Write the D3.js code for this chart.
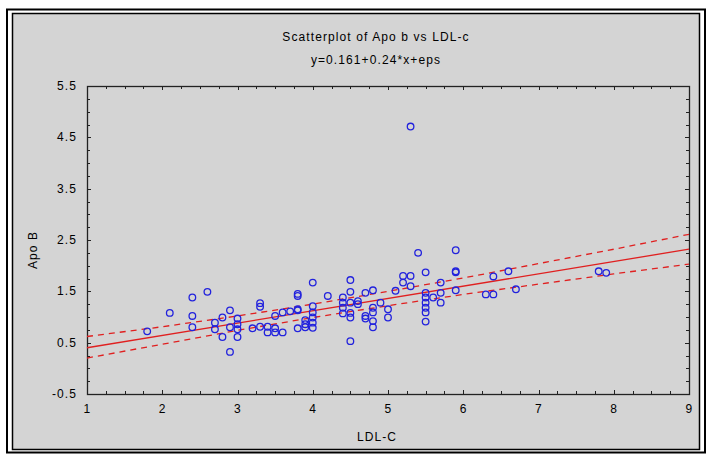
<!DOCTYPE html>
<head>
 <script src="https://cdnjs.cloudflare.com/ajax/libs/d3/7.8.5/d3.min.js"></script>
 <style>
   body { margin: 0; background: #ffffff; }
   text { font-family: "Liberation Sans", Arial, sans-serif; font-size: 12px; letter-spacing: 1.1px; fill: #000; }
 </style>
</head>

<body>
 <div id="chart"></div>
</body>
<script type="text/javascript">
 // LDL-C vs Apo B
 var ldl = [1.8, 2.1, 2.4, 2.4, 2.4, 2.6, 2.7, 2.7, 2.8, 2.8, 2.9, 2.9, 2.9,
            3.0, 3.0, 3.0, 3.0, 3.2, 3.3, 3.3, 3.3, 3.4, 3.4, 3.5, 3.5, 3.5,
            3.6, 3.6, 3.7, 3.8, 3.8, 3.8, 3.8, 3.8, 3.9, 3.9, 3.9,
            4.0, 4.0, 4.0, 4.0, 4.0, 4.0, 4.2, 4.4, 4.4, 4.4, 4.4,
            4.5, 4.5, 4.5, 4.5, 4.5, 4.5, 4.6, 4.6, 4.7, 4.7, 4.7,
            4.8, 4.8, 4.8, 4.8, 4.8, 4.9, 5.0, 5.0, 5.1, 5.2, 5.2, 5.3, 5.3, 5.3, 5.4,
            5.5, 5.5, 5.5, 5.5, 5.5, 5.5, 5.5, 5.6, 5.7, 5.7, 5.7,
            5.9, 5.9, 5.9, 5.9, 6.3, 6.4, 6.4, 6.6, 6.7, 7.8, 7.9];
 var apob = [0.72, 1.08, 1.38, 1.02, 0.80, 1.49, 0.89, 0.76, 0.99, 0.61, 1.13, 0.80, 0.32,
             0.97, 0.86, 0.76, 0.61, 0.78, 1.27, 1.20, 0.81, 0.81, 0.70, 1.02, 0.78, 0.70,
             1.09, 0.70, 1.11, 1.45, 1.41, 1.13, 1.15, 0.78, 0.94, 0.86, 0.80,
             1.67, 1.21, 1.09, 0.99, 0.89, 0.79, 1.41, 1.38, 1.28, 1.18, 1.07,
             1.72, 1.49, 1.28, 1.08, 0.99, 0.53, 1.31, 1.25, 1.47, 1.02, 0.97,
             1.52, 1.18, 1.09, 0.92, 0.80, 1.28, 1.15, 0.99, 1.51, 1.80, 1.67, 1.80, 1.60, 4.71, 2.25,
             1.87, 1.47, 1.38, 1.28, 1.18, 1.09, 0.91, 1.38, 1.67, 1.47, 1.28,
             2.30, 1.89, 1.87, 1.52, 1.44, 1.44, 1.79, 1.89, 1.54, 1.89, 1.86];

 // fit y=0.161+0.24*x and its confidence band (band read at x = 1..9)
 var intercept = 0.161;
 var slope = 0.24;
 var bandX = [1, 2, 3, 4, 5, 6, 7, 8, 9];
 var bandUpper = [0.62, 0.81, 1.02, 1.25, 1.50, 1.76, 2.04, 2.32, 2.61];
 var bandLower = [0.20, 0.47, 0.74, 0.99, 1.22, 1.44, 1.64, 1.84, 2.03];

 var xTicks = [1, 2, 3, 4, 5, 6, 7, 8, 9];
 var yTicks = [-0.5, 0.5, 1.5, 2.5, 3.5, 4.5, 5.5];

 var props = {
   width: 707,
   height: 455,
   plotLeft: 87,
   plotRight: 689,
   plotTop: 86,
   plotBottom: 394
 }

 var svg = d3.select("#chart").append("svg").attr("width", props.width).attr("height", props.height);

 // window frame
 svg.append("rect").attr("x", 7).attr("y", 9.5).attr("width", 698).attr("height", 443)
   .style("fill", "#ffffff").style("stroke", "#000").style("stroke-width", 2);
 svg.append("rect").attr("x", 12.5).attr("y", 13.5).attr("width", 687).attr("height", 436)
   .style("fill", "#d4d4d4").style("stroke", "#000").style("stroke-width", 1.5);

 var x = d3.scaleLinear().domain([1, 9]).range([props.plotLeft, props.plotRight]);
 var y = d3.scaleLinear().domain([-0.5, 5.5]).range([props.plotBottom, props.plotTop]);

 var xMinor = d3.range(1, 9.01, 0.25);
 var yMinor = d3.range(-0.5, 5.51, 0.25);

 // ticks pointing inward on all four sides
 var ticks = svg.append("g").style("stroke", "#222").style("stroke-width", 1);
 ticks.selectAll(".xb").data(xMinor).enter().append("line")
   .attr("x1", function(d){ return Math.round(x(d)) + 0.5; })
   .attr("x2", function(d){ return Math.round(x(d)) + 0.5; })
   .attr("y1", props.plotBottom)
   .attr("y2", function(d){ return props.plotBottom - (Number.isInteger(d) ? 4 : 3); });
 ticks.selectAll(".xt").data(xMinor).enter().append("line")
   .attr("x1", function(d){ return Math.round(x(d)) + 0.5; })
   .attr("x2", function(d){ return Math.round(x(d)) + 0.5; })
   .attr("y1", props.plotTop)
   .attr("y2", function(d){ return props.plotTop + (Number.isInteger(d) ? 4 : 3); });
 ticks.selectAll(".yl").data(yMinor).enter().append("line")
   .attr("y1", function(d){ return Math.round(y(d)) + 0.5; })
   .attr("y2", function(d){ return Math.round(y(d)) + 0.5; })
   .attr("x1", props.plotLeft)
   .attr("x2", function(d){ return props.plotLeft + (Math.abs(d % 1) == 0.5 ? 4 : 3); });
 ticks.selectAll(".yr").data(yMinor).enter().append("line")
   .attr("y1", function(d){ return Math.round(y(d)) + 0.5; })
   .attr("y2", function(d){ return Math.round(y(d)) + 0.5; })
   .attr("x1", props.plotRight)
   .attr("x2", function(d){ return props.plotRight - (Math.abs(d % 1) == 0.5 ? 4 : 3); });

 svg.append("rect")
   .attr("x", props.plotLeft + 0.5).attr("y", props.plotTop + 0.5)
   .attr("width", props.plotRight - props.plotLeft).attr("height", props.plotBottom - props.plotTop)
   .style("fill", "none").style("stroke", "#222").style("stroke-width", 1.3);

 // tick labels
 svg.selectAll(".xlab").data(xTicks).enter().append("text")
   .attr("x", function(d){ return x(d) + 0.5; })
   .attr("y", 413)
   .attr("text-anchor", "middle")
   .text(function(d){ return d; });
 svg.selectAll(".ylab").data(yTicks).enter().append("text")
   .attr("x", 77)
   .attr("y", function(d){ return y(d) + 4; })
   .attr("text-anchor", "end")
   .text(function(d){ return d; });

 // titles
 svg.append("text").attr("x", 376).attr("y", 41).attr("text-anchor", "middle").text("Scatterplot of Apo b vs LDL-c");
 svg.append("text").attr("x", 376).attr("y", 64).attr("text-anchor", "middle").text("y=0.161+0.24*x+eps");
 svg.append("text").attr("x", 377).attr("y", 441).attr("text-anchor", "middle").text("LDL-C");
 svg.append("text").attr("transform", "translate(37,250) rotate(-90)").attr("text-anchor", "middle").text("Apo B");

 // regression line and band
 var line = d3.line().x(function(d){ return x(d[0]); }).y(function(d){ return y(d[1]); });
 svg.append("path")
   .attr("d", line([[1, intercept + slope * 1], [9, intercept + slope * 9]]))
   .style("fill", "none").style("stroke", "#e02020").style("stroke-width", 1.3);
 [bandUpper, bandLower].forEach(function(band){
   svg.append("path")
     .attr("d", line(d3.zip(bandX, band)))
     .style("fill", "none").style("stroke", "#e02020").style("stroke-width", 1.3)
     .style("stroke-dasharray", "6,5");
 });

 // points
 svg.append("g").selectAll("circle")
   .data(d3.zip(ldl, apob))
   .enter()
   .append("circle")
   .attr("cx", function(d){ return x(d[0]); })
   .attr("cy", function(d){ return y(d[1]); })
   .attr("r", 3.3)
   .style("fill", "none")
   .style("stroke", "#2222dd")
   .style("stroke-width", 1.3);
</script>
